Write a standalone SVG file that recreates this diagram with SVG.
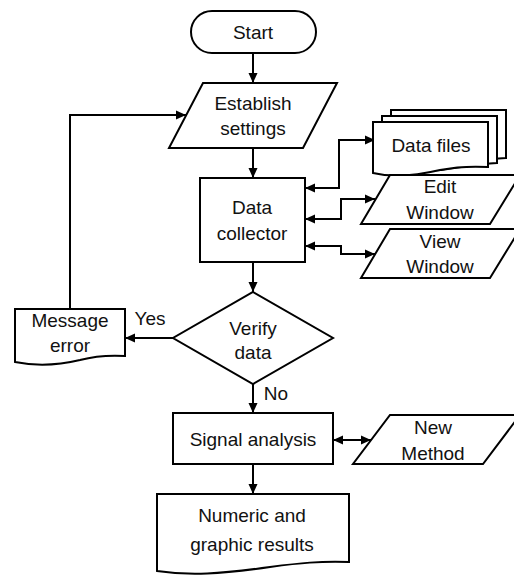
<svg xmlns="http://www.w3.org/2000/svg" width="514" height="578" viewBox="0 0 514 578">
  <defs>
    <marker id="arrow" markerUnits="userSpaceOnUse" markerWidth="10" markerHeight="10" viewBox="0 0 10 10" refX="10" refY="5" orient="auto-start-reverse">
      <path d="M0,0.5 L10,5 L0,9.5 Z" fill="#000"/>
    </marker>
  </defs>
  <style>
    .shape { fill: #fff; stroke: #000; stroke-width: 2; stroke-linejoin: miter; }
    .label { font-family: "Liberation Sans", Arial, sans-serif; font-size: 19px; fill: #111; text-anchor: middle; }
    .edge { fill: none; stroke: #000; stroke-width: 2; }
    .single { marker-end: url(#arrow); }
    .double { marker-start: url(#arrow); marker-end: url(#arrow); }
  </style>
  <rect width="514" height="578" fill="#fff"/>

  <!-- connectors -->
  <g id="connectors">
    <path class="edge single" d="M253,53 V83"/>
    <path class="edge single" d="M253,148 V178"/>
    <path class="edge single" d="M253,262 V292"/>
    <path class="edge single" d="M253,384 V413"/>
    <path class="edge single" d="M253,464 V494"/>
    <path class="edge single" d="M173,338 H125"/>
    <path class="edge single" d="M70,309 V115 H186"/>
    <path class="edge double" d="M305,188 H339 V140 H375"/>
    <path class="edge double" d="M305,219 H341 V199 H375"/>
    <path class="edge double" d="M305,246 H341 V254 H375"/>
    <path class="edge double" d="M333,440 H371"/>
    <text class="label" x="150" y="325">Yes</text>
    <text class="label" x="276" y="400">No</text>
  </g>

  <g id="start">
    <rect class="shape" x="191" y="11" width="125" height="42" rx="21" ry="21"/>
    <text class="label" x="253" y="39">Start</text>
  </g>

  <g id="establish-settings">
    <polygon class="shape" points="203,83 337,83 303,148 169,148"/>
    <text class="label" x="253" y="110">Establish</text>
    <text class="label" x="253" y="135">settings</text>
  </g>

  <g id="data-collector">
    <rect class="shape" x="200" y="178" width="105" height="84"/>
    <text class="label" x="252" y="214">Data</text>
    <text class="label" x="252" y="240">collector</text>
  </g>

  <g id="data-files">
    <path class="shape" d="M391,110 H506 V158 C490,159 480,160 470,162 C440,168 420,165 391,162 Z"/>
    <path class="shape" d="M382,116 H497 V163 C481,164 471,165 461,167 C431,173 411,170 382,167 Z"/>
    <path class="shape" d="M373,122 H488 V167 C470,166 455,167 440,170 C410,177 390,177 373,173 Z"/>
    <text class="label" x="431" y="152">Data files</text>
  </g>

  <g id="edit-window">
    <polygon class="shape" points="390,175 520,175 490,224 361,224"/>
    <text class="label" x="440" y="193">Edit</text>
    <text class="label" x="440" y="219">Window</text>
  </g>

  <g id="view-window">
    <polygon class="shape" points="390,229 520,229 490,278 361,278"/>
    <text class="label" x="440" y="248">View</text>
    <text class="label" x="440" y="273">Window</text>
  </g>

  <g id="verify-data">
    <polygon class="shape" points="253,292 333,338 253,384 173,338"/>
    <text class="label" x="253" y="335">Verify</text>
    <text class="label" x="253" y="359">data</text>
  </g>

  <g id="message-error">
    <path class="shape" d="M15,309 H125 V356 C108,355 95,356 80,360 C55,366 35,366 15,362 Z"/>
    <text class="label" x="70" y="327">Message</text>
    <text class="label" x="70" y="352">error</text>
  </g>

  <g id="signal-analysis">
    <rect class="shape" x="173" y="413" width="160" height="51"/>
    <text class="label" x="253" y="446">Signal analysis</text>
  </g>

  <g id="new-method">
    <polygon class="shape" points="390,415 520,415 483,464 353,464"/>
    <text class="label" x="433" y="434">New</text>
    <text class="label" x="433" y="460">Method</text>
  </g>

  <g id="numeric-results">
    <path class="shape" d="M157,494 H349 V562 C320,561 300,563 270,567 C220,574 190,576 157,571 Z"/>
    <text class="label" x="252" y="522">Numeric and</text>
    <text class="label" x="252" y="551">graphic results</text>
  </g>
</svg>
